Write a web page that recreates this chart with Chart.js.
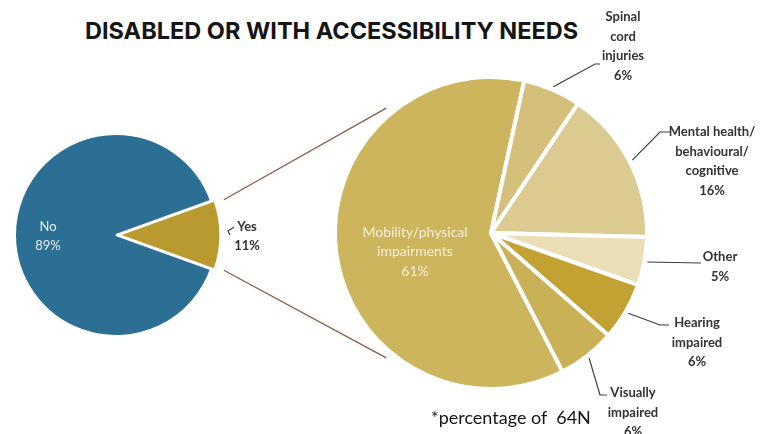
<!DOCTYPE html>
<html>
<head>
<meta charset="utf-8">
<script src="https://cdn.jsdelivr.net/npm/chart.js@4.4.1/dist/chart.umd.min.js"></script>
<style>
  body { margin: 0; background: #fff; width: 781px; height: 434px; overflow: hidden; position: relative; }
  canvas { position: absolute; left: 0; top: 0; }
  #title { position: absolute; left: 85px; top: 16px; font: 700 23.5px Inter, sans-serif; color: #151515; white-space: nowrap; }
  #note { position: absolute; left: 431px; top: 406px; font: 18px Lato, sans-serif; color: #151515; white-space: pre; }
</style>
</head>
<body>
<div id="title">DISABLED OR WITH ACCESSIBILITY NEEDS</div>
<canvas id="leftPie" width="781" height="434"></canvas>
<canvas id="rightPie" width="781" height="434"></canvas>
<div id="note">*percentage of  64N</div>
<script>
// first pie: share of respondents
const mainLabels = ['Yes', 'No'];
const mainValues = [11, 89];
const mainColors = ['#b89a2e', '#2b6f95'];

// second pie: breakdown of the "Yes" slice
const needLabels = [
    ['Mobility/physical', 'impairments'],
    ['Spinal', 'cord', 'injuries'],
    ['Mental health/', 'behavioural/', 'cognitive'],
    ['Other'],
    ['Hearing', 'impaired'],
    ['Visually', 'impaired']
];
const needValues = [61, 6, 16, 5, 6, 6];
const needColors = ['#cdb55d', '#d5c07b', '#dccb91', '#ebdfb7', '#c2a233', '#cab158'];

// draws the slice labels and their leader lines
const calloutPlugin = {
    id: 'callouts',
    afterDatasetsDraw(chart, args, opts) {
        const ctx = chart.ctx;
        const meta = chart.getDatasetMeta(0);
        const values = chart.data.datasets[0].data;
        ctx.save();
        opts.items.forEach((item, i) => {
            const arc = meta.data[i];
            const p = arc.getProps(['x', 'y', 'startAngle', 'endAngle', 'outerRadius']);
            const mid = (p.startAngle + p.endAngle) / 2;
            const off = arc.options.offset || 0;
            if (item.path) {
                const r = p.outerRadius + off + 3;
                ctx.beginPath();
                ctx.moveTo(p.x + Math.cos(mid) * r, p.y + Math.sin(mid) * r);
                item.path.forEach(pt => ctx.lineTo(pt[0], pt[1]));
                ctx.strokeStyle = '#3c3c3c';
                ctx.lineWidth = 1.2;
                ctx.stroke();
            }
            const lines = [].concat(chart.data.labels[i], values[i] + '%');
            ctx.font = item.font || opts.font;
            ctx.fillStyle = item.color || opts.color;
            ctx.textAlign = 'center';
            ctx.textBaseline = 'middle';
            lines.forEach((t, k) => ctx.fillText(t, item.x, item.y + k * opts.lineHeight));
        });
        ctx.restore();
    }
};

const leftChart = new Chart(document.getElementById('leftPie'), {
    type: 'pie',
    data: {
        labels: mainLabels,
        datasets: [{
            data: mainValues,
            backgroundColor: mainColors,
            borderColor: '#fff',
            borderWidth: 2,
            offset: [10, 0],
            radius: 101
        }]
    },
    options: {
        responsive: false,
        animation: false,
        events: [],
        rotation: 90 - mainValues[0] * 1.8,
        layout: { padding: { left: 0, right: 549, top: 119, bottom: 83 } },
        plugins: {
            legend: { display: false },
            tooltip: { enabled: false },
            callouts: {
                font: 'bold 13px Lato, sans-serif',
                color: '#333',
                lineHeight: 18.5,
                items: [
                    { x: 247, y: 227, path: [[228, 231], [234, 227]] },
                    { x: 48, y: 227, color: '#e8eef3', font: '13px Lato, sans-serif' }
                ]
            }
        }
    },
    plugins: [calloutPlugin]
});

// connector lines from the "Yes" slice to the breakdown pie
const connectorPlugin = {
    id: 'connectors',
    beforeDatasetsDraw(chart, args, opts) {
        const yes = leftChart.getDatasetMeta(0).data[0];
        const a = yes.getProps(['x', 'y', 'startAngle', 'endAngle', 'outerRadius']);
        const mid = (a.startAngle + a.endAngle) / 2;
        const ox = a.x + Math.cos(mid) * yes.options.offset;
        const oy = a.y + Math.sin(mid) * yes.options.offset;
        const big = chart.getDatasetMeta(0).data[0];
        const b = big.getProps(['x', 'y', 'outerRadius']);
        const ctx = chart.ctx;
        ctx.save();
        ctx.strokeStyle = '#8a5c47';
        ctx.lineWidth = 1.3;
        [[a.startAngle, opts.upper], [a.endAngle, opts.lower]].forEach(([ang, deg]) => {
            const t = (deg - 90) * Math.PI / 180;
            const r = b.outerRadius + opts.gap;
            ctx.beginPath();
            ctx.moveTo(ox + Math.cos(ang) * (a.outerRadius + 3), oy + Math.sin(ang) * (a.outerRadius + 3));
            ctx.lineTo(b.x + Math.cos(t) * r, b.y + Math.sin(t) * r);
            ctx.stroke();
        });
        ctx.restore();
    }
};

const rightChart = new Chart(document.getElementById('rightPie'), {
    type: 'pie',
    data: {
        labels: needLabels,
        datasets: [{
            data: needValues,
            backgroundColor: needColors,
            borderColor: '#fff',
            borderWidth: 4,
            radius: 156
        }]
    },
    options: {
        responsive: false,
        animation: false,
        events: [],
        rotation: 12.3 - needValues[0] * 3.6,
        layout: { padding: { left: 321, right: 120, top: 63, bottom: 31 } },
        plugins: {
            legend: { display: false },
            tooltip: { enabled: false },
            connectors: { upper: 320, lower: 220, gap: 7 },
            callouts: {
                font: 'bold 13px Lato, sans-serif',
                color: '#333',
                lineHeight: 19.5,
                items: [
                    { x: 415, y: 232, color: '#f7efd6', font: '14px Lato, sans-serif' },
                    { x: 623, y: 17, path: [[595, 64], [600, 64]] },
                    { x: 712, y: 132, path: [[660, 132], [670, 132]] },
                    { x: 720, y: 257, path: [[701, 263]] },
                    { x: 697, y: 323, path: [[660, 325], [669, 325]] },
                    { x: 633, y: 393, path: [[600, 395], [607, 395]] }
                ]
            }
        }
    },
    plugins: [calloutPlugin, connectorPlugin]
});
</script>
</body>
</html>
